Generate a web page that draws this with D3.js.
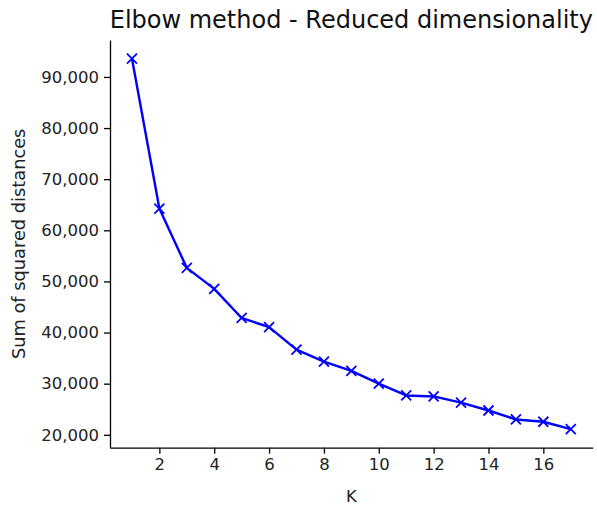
<!DOCTYPE html>
<html>
<head>
<meta charset="utf-8">
<script src="https://cdn.jsdelivr.net/npm/d3@7"></script>
<style>
  body { margin: 0; background: #fff; }
  svg { display: block; font-family: "DejaVu Sans", sans-serif; }
</style>
</head>
<body>
<svg id="chart" width="597" height="506"></svg>
<script>
// Number of clusters tried
const kValues = [1, 2, 3, 4, 5, 6, 7, 8, 9, 10, 11, 12, 13, 14, 15, 16, 17];
// Within-cluster sum of squared distances for each K
const inertia = [93600, 64250, 52650, 48550, 42850, 41050, 36650, 34300, 32500,
                 30000, 27700, 27500, 26300, 24750, 23000, 22550, 21100];
const xTicks = [2, 4, 6, 8, 10, 12, 14, 16];
const yTicks = [20000, 30000, 40000, 50000, 60000, 70000, 80000, 90000];

const svg = d3.select("#chart");
const plot = { left: 110, right: 592.7, top: 40, bottom: 447.7 };

// 5% padding around the data range on both axes
const xMin = d3.min(kValues), xMax = d3.max(kValues);
const xPad = (xMax - xMin) * 0.05;
const yMin = d3.min(inertia), yMax = d3.max(inertia);
const yPad = (yMax - yMin) * 0.05;

const x = d3.scaleLinear().domain([xMin - xPad, xMax + xPad]).range([plot.left, plot.right]);
const y = d3.scaleLinear().domain([yMin - yPad, yMax + yPad]).range([plot.bottom, plot.top]);

const fmt = d3.format(",");

const xAxis = svg.append("g")
  .attr("transform", `translate(0,${plot.bottom})`)
  .call(d3.axisBottom(x).tickValues(xTicks).tickSize(6).tickPadding(5).tickSizeOuter(0));
const yAxis = svg.append("g")
  .attr("transform", `translate(${plot.left},0)`)
  .call(d3.axisLeft(y).tickValues(yTicks).tickFormat(fmt).tickSize(6).tickPadding(5).tickSizeOuter(0));

[xAxis, yAxis].forEach(g => {
  g.select(".domain").attr("stroke", "#000").attr("stroke-width", 1.3);
  g.selectAll(".tick line").attr("stroke", "#000").attr("stroke-width", 1.3);
  g.selectAll(".tick text")
    .attr("fill", "#222")
    .style("font-family", "'DejaVu Sans', sans-serif")
    .style("font-size", "16.5px");
});

// Line through the inertia values
const line = d3.line().x((d, i) => x(kValues[i])).y(d => y(d));
svg.append("path")
  .datum(inertia)
  .attr("fill", "none")
  .attr("stroke", "#0000ff")
  .attr("stroke-width", 2.4)
  .attr("stroke-linejoin", "round")
  .attr("d", line);

// "x" markers at each K
const m = 5;
svg.append("g").selectAll("path")
  .data(inertia)
  .join("path")
  .attr("d", (d, i) => {
    const cx = x(kValues[i]), cy = y(d);
    return `M${cx - m},${cy - m}L${cx + m},${cy + m}M${cx - m},${cy + m}L${cx + m},${cy - m}`;
  })
  .attr("stroke", "#0000ff")
  .attr("stroke-width", 1.8)
  .attr("fill", "none");

// Title and axis labels
svg.append("text")
  .attr("x", (plot.left + plot.right) / 2)
  .attr("y", 28)
  .attr("text-anchor", "middle")
  .style("font-size", "24px")
  .attr("fill", "#111")
  .text("Elbow method - Reduced dimensionality");

svg.append("text")
  .attr("x", (plot.left + plot.right) / 2)
  .attr("y", 502)
  .attr("text-anchor", "middle")
  .style("font-size", "16.5px")
  .attr("fill", "#222")
  .text("K");

svg.append("text")
  .attr("transform", `translate(25,${(plot.top + plot.bottom) / 2}) rotate(-90)`)
  .attr("text-anchor", "middle")
  .style("font-size", "17.8px")
  .attr("fill", "#222")
  .text("Sum of squared distances");
</script>
</body>
</html>
